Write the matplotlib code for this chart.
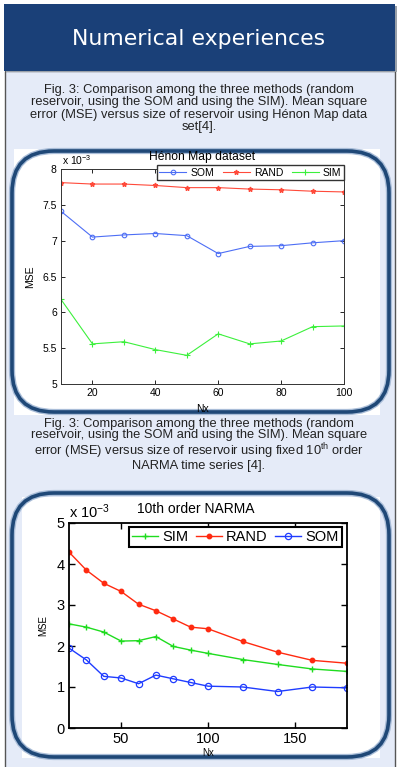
import matplotlib
matplotlib.use('Agg')
import matplotlib.pyplot as plt
from matplotlib.patches import Rectangle, FancyBboxPatch

plt.rcParams['font.family'] = ['Liberation Sans', 'DejaVu Sans']
plt.rcParams['mathtext.fontset'] = 'custom'
plt.rcParams['mathtext.rm'] = 'Liberation Sans'
plt.rcParams['mathtext.it'] = 'Liberation Sans:italic'
plt.rcParams['mathtext.bf'] = 'Liberation Sans:bold'

W, H = 398, 767

# Hénon map dataset, MSE in units of 1e-3
henon_nx = [10, 20, 30, 40, 50, 60, 70, 80, 90, 100]
henon_som = [7.41, 7.05, 7.08, 7.10, 7.07, 6.82, 6.92, 6.93, 6.97, 7.00]
henon_rand = [7.81, 7.79, 7.79, 7.77, 7.74, 7.74, 7.72, 7.71, 7.69, 7.68]
henon_sim = [6.18, 5.56, 5.59, 5.48, 5.40, 5.70, 5.56, 5.60, 5.80, 5.81]

# 10th order NARMA, MSE in units of 1e-3
narma_nx = [20, 30, 40, 50, 60, 70, 80, 90, 100, 120, 140, 160, 180]
narma_sim = [2.54, 2.46, 2.34, 2.12, 2.13, 2.23, 1.99, 1.90, 1.82, 1.67, 1.55, 1.44, 1.38]
narma_rand = [4.29, 3.85, 3.53, 3.33, 3.02, 2.86, 2.66, 2.46, 2.42, 2.11, 1.85, 1.65, 1.58]
narma_som = [1.95, 1.66, 1.26, 1.22, 1.08, 1.29, 1.20, 1.11, 1.02, 1.00, 0.89, 1.00, 0.98]

caption1 = ["Fig. 3: Comparison among the three methods (random",
            "reservoir, using the SOM and using the SIM). Mean square",
            "error (MSE) versus size of reservoir using Hénon Map data",
            "set[4]."]
caption2 = ["Fig. 3: Comparison among the three methods (random",
            "reservoir, using the SOM and using the SIM). Mean square",
            "error (MSE) versus size of reservoir using fixed 10$^{\\mathrm{th}}$ order",
            "NARMA time series [4]."]


def rect(l, t, r, b):
    # pixel box (from top-left) -> figure fraction
    return [l / W, 1 - b / H, (r - l) / W, (b - t) / H]


fig = plt.figure(figsize=(W / 100, H / 100), dpi=100)
fig.patch.set_facecolor('white')

# background layer in pixel coordinates
bg = fig.add_axes([0, 0, 1, 1])
bg.set_xlim(0, W)
bg.set_ylim(H, 0)
bg.axis('off')

bg.add_patch(Rectangle((4.5, 71), 390, 700, fc='#e5ebf8', ec='#555555', lw=1))
bg.add_patch(Rectangle((6, 6), 391, 66, fc='#9aa0a8', ec='none'))
bg.add_patch(Rectangle((4, 4), 391, 67, fc='#1a4078', ec='none'))
bg.text(199, 39, 'Numerical experiences', color='white', fontsize=15.8,
        family='DejaVu Sans', ha='center', va='center')

bg.text(199, 108.5, '\n'.join(caption1), fontsize=9.3, ha='center', va='center',
        color='#222222', linespacing=1.03)
bg.text(199, 445, '\n'.join(caption2), fontsize=9.3, ha='center', va='center',
        color='#222222', linespacing=0.96)

# white figure areas with rounded frames
bg.add_patch(Rectangle((14, 149), 366, 266, fc='white', ec='none'))
bg.add_patch(Rectangle((22, 497), 358, 261, fc='white', ec='none'))
for (l, t, r, b) in [(12, 151, 389, 412), (12, 493, 389, 757)]:
    bg.add_patch(FancyBboxPatch((l, t), r - l, b - t, boxstyle='round,pad=0,rounding_size=42',
                                fc='none', ec='#a9bdd8', lw=4.5))
    bg.add_patch(FancyBboxPatch((l, t), r - l, b - t, boxstyle='round,pad=0,rounding_size=42',
                                fc='none', ec='#1f4877', lw=2.6))

# ---- Hénon Map chart ----
ax1 = fig.add_axes(rect(61, 169, 344, 384))
ax1.plot(henon_nx, henon_som, '-o', color='#4d6ef5', lw=0.8, ms=3.3, mfc='none', mew=0.8, label='SOM')
ax1.plot(henon_nx, henon_rand, '-*', color='#ff4a3a', lw=0.8, ms=3.5, label='RAND')
ax1.plot(henon_nx, henon_sim, '-+', color='#3cf03c', lw=0.8, ms=4, mew=0.8, label='SIM')
ax1.set_xlim(10, 100)
ax1.set_ylim(5, 8)
ax1.set_xticks([20, 40, 60, 80, 100])
ax1.set_yticks([5, 5.5, 6, 6.5, 7, 7.5, 8])
ax1.set_yticklabels(['5', '5.5', '6', '6.5', '7', '7.5', '8'])
ax1.tick_params(direction='in', top=True, right=True, labelsize=7.5, length=3, width=0.6, pad=3)
for s in ax1.spines.values():
    s.set_linewidth(0.7)
    s.set_color('#333333')
ax1.set_ylabel('MSE', fontsize=7.5, labelpad=5)
ax1.set_xlabel('Nx', fontsize=7.5, labelpad=4)
ax1.set_title('Hénon Map dataset', fontsize=8.7, pad=6.5)
ax1.text(0.005, 1.01, 'x 10$^{-3}$', transform=ax1.transAxes, fontsize=7.5, va='bottom', ha='left')
ax1.legend(ncol=3, loc='upper right', bbox_to_anchor=(344 / W, 1 - 165 / H),
           bbox_transform=fig.transFigure, fontsize=7.5, fancybox=False, edgecolor='#333333',
           framealpha=1, borderpad=0.25, handlelength=2.6, handletextpad=0.4,
           columnspacing=0.8, borderaxespad=0)

# ---- NARMA chart ----
ax2 = fig.add_axes(rect(69, 523, 347, 728))
ax2.plot(narma_nx, narma_sim, '-+', color='#1fdc1f', lw=1, ms=5, mew=1, label='SIM')
ax2.plot(narma_nx, narma_rand, '-o', color='#ff2a10', lw=1, ms=3.2, label='RAND')
ax2.plot(narma_nx, narma_som, '-o', color='#1f3cff', lw=1, ms=4.5, mfc='none', mew=0.9, label='SOM')
ax2.set_xlim(20, 180)
ax2.set_ylim(0, 5)
ax2.set_xticks([50, 100, 150])
ax2.set_yticks([0, 1, 2, 3, 4, 5])
ax2.tick_params(direction='in', top=True, right=True, labelsize=10.5, length=4, width=1, pad=3)
for s in ax2.spines.values():
    s.set_linewidth(1.3)
    s.set_color('black')
ax2.set_ylabel('MSE', fontsize=7, labelpad=6)
ax2.set_xlabel('Nx', fontsize=7, labelpad=1)
ax2.set_title('10th order NARMA', fontsize=10, x=0.455, pad=7)
ax2.text(0.0, 1.01, 'x 10$^{-3}$', transform=ax2.transAxes, fontsize=10.5, va='bottom', ha='left')
leg = ax2.legend(ncol=3, loc='upper right', bbox_to_anchor=(342 / W, 1 - 527 / H),
                 bbox_transform=fig.transFigure, fontsize=10.5, fancybox=False, edgecolor='black',
                 framealpha=1, borderpad=0.2, handlelength=1.8, handletextpad=0.3,
                 columnspacing=0.5, borderaxespad=0)
leg.get_frame().set_linewidth(1.5)

fig.savefig('out.png', dpi=100)
